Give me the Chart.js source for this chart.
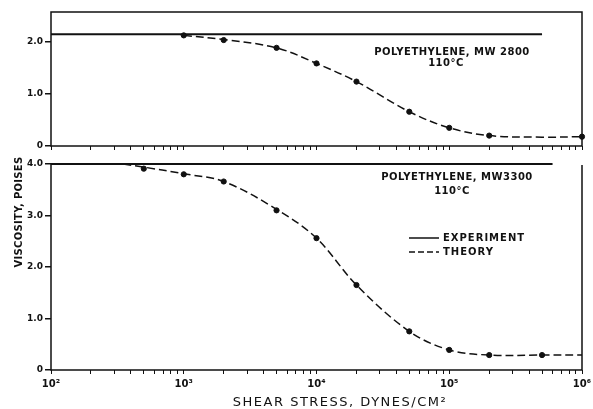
<!DOCTYPE html>
<html>
<head>
<meta charset="utf-8">
<script src="https://cdn.jsdelivr.net/npm/chart.js@4.4.1/dist/chart.umd.min.js"></script>
<style>
    html, body { margin: 0; padding: 0; background: #fff; }
    #wrap { position: relative; width: 593px; height: 409px; }
    #wrap canvas { position: absolute; left: 0; top: 0; }
</style>
</head>
<body>
<div id="wrap">
    <canvas id="topChart" width="593" height="409"></canvas>
    <canvas id="bottomChart" width="593" height="409"></canvas>
</div>
<script>
// Shear stress axis (dynes/cm2), log scale
const xMajorTicks = [1e2, 1e3, 1e4, 1e5, 1e6];
const xTickLabels = ['10²', '10³', '10⁴', '10⁵', '10⁶'];

// Polyethylene MW 2800, 110 C  (viscosity, poises)
const topYTicks = [0, 1, 2];
const topExpX = [1e2, 5e5];
const topExpY = [2.15, 2.15];
const topTheoryX = [1e3, 2e3, 5e3, 1e4, 2e4, 5e4, 1e5, 2e5, 5e5, 1e6];
const topTheoryY = [2.13, 2.05, 1.89, 1.59, 1.24, 0.66, 0.35, 0.20, 0.17, 0.18];
const topPointX = [1e3, 2e3, 5e3, 1e4, 2e4, 5e4, 1e5, 2e5, 1e6];
const topPointY = [2.13, 2.04, 1.89, 1.59, 1.24, 0.66, 0.35, 0.20, 0.18];

// Polyethylene MW 3300, 110 C
const botYTicks = [0, 1, 2, 3, 4];
const botExpX = [1e2, 6e5];
const botExpY = [4.0, 4.0];
const botTheoryX = [350, 500, 1e3, 2e3, 5e3, 1e4, 2e4, 5e4, 1e5, 2e5, 5e5, 1e6];
const botTheoryY = [4.0, 3.94, 3.81, 3.66, 3.12, 2.56, 1.65, 0.75, 0.39, 0.29, 0.29, 0.29];
const botPointX = [500, 1e3, 2e3, 5e3, 1e4, 2e4, 5e4, 1e5, 2e5, 5e5];
const botPointY = [3.91, 3.80, 3.66, 3.10, 2.56, 1.65, 0.75, 0.39, 0.29, 0.29];

const INK = '#111';
const FONT = 'DejaVu Sans';

function pairs(xs, ys) {
    return xs.map((x, i) => ({ x: x, y: ys[i] }));
}

function makeDatasets(expX, expY, thX, thY, ptX, ptY) {
    return [
        {
            label: 'Experiment',
            data: pairs(expX, expY),
            borderColor: INK,
            borderWidth: 2,
            pointRadius: 0,
            clip: false
        },
        {
            label: 'Theory',
            data: pairs(thX, thY),
            borderColor: INK,
            borderWidth: 1.5,
            borderDash: [8, 4],
            pointRadius: 0,
            tension: 0.35,
            clip: false
        },
        {
            label: 'points',
            data: pairs(ptX, ptY),
            showLine: false,
            pointRadius: 2.6,
            pointBackgroundColor: INK,
            pointBorderColor: INK,
            clip: false
        }
    ];
}

// log axis ticks: decades plus 2..9 minor marks
function logTicks(scale) {
    const t = [];
    xMajorTicks.forEach((v, i) => {
        t.push({ value: v, major: true });
        if (i < xMajorTicks.length - 1) {
            for (let m = 2; m <= 9; m++) t.push({ value: v * m });
        }
    });
    scale.ticks = t;
}

function yScale(max, tickList) {
    return {
        min: 0,
        max: max,
        afterBuildTicks: s => { s.ticks = tickList.map(v => ({ value: v })); },
        afterFit: s => { s.width = 51; s.paddingTop = 0; s.paddingBottom = 0; },
        border: { display: false },
        grid: { drawOnChartArea: false, drawTicks: true, tickLength: 6, color: INK, lineWidth: 1.5 },
        ticks: {
            padding: 2,
            color: INK,
            font: { family: FONT, weight: 'bold', size: 9 },
            callback: v => (v === 0 ? '0' : Number(v).toFixed(1))
        }
    };
}

function xScale(showLabels, height) {
    return {
        type: 'logarithmic',
        min: 1e2,
        max: 1e6,
        afterBuildTicks: logTicks,
        afterFit: s => { s.height = height; s.paddingLeft = 0; s.paddingRight = 0; },
        border: { display: false },
        grid: { drawOnChartArea: false, drawTicks: true, tickLength: 4, color: INK, lineWidth: 1 },
        ticks: {
            display: showLabels,
            autoSkip: false,
            maxRotation: 0,
            padding: 4,
            color: INK,
            font: { family: FONT, weight: 'bold', size: 10 },
            callback: v => {
                const i = xMajorTicks.indexOf(Number(v));
                return i >= 0 ? xTickLabels[i] : '';
            }
        }
    };
}

function drawText(ctx, text, x, y, font, align, spacing) {
    ctx.save();
    ctx.font = font;
    ctx.fillStyle = INK;
    ctx.textAlign = align;
    ctx.textBaseline = 'middle';
    ctx.letterSpacing = spacing || '0px';
    ctx.fillText(text, x, y);
    ctx.restore();
}

const topFrame = {
    id: 'topFrame',
    afterDraw(chart) {
        const { ctx, chartArea: a } = chart;
        ctx.save();
        ctx.strokeStyle = INK;
        ctx.lineWidth = 1.5;
        ctx.strokeRect(a.left, a.top, a.right - a.left, a.bottom - a.top);
        ctx.restore();
        drawText(ctx, 'POLYETHYLENE, MW 2800', 452, 52, 'bold 10px ' + FONT, 'center', '0.5px');
        drawText(ctx, '110°C', 446, 63, 'bold 10px ' + FONT, 'center', '0.5px');
    }
};

const bottomFrame = {
    id: 'bottomFrame',
    afterDraw(chart) {
        const { ctx, chartArea: a } = chart;
        ctx.save();
        ctx.strokeStyle = INK;
        ctx.lineWidth = 1.5;
        ctx.beginPath();
        ctx.moveTo(a.left, a.top);
        ctx.lineTo(a.left, a.bottom);
        ctx.lineTo(a.right, a.bottom);
        ctx.lineTo(a.right, a.top + 1);
        ctx.stroke();

        // legend
        ctx.lineWidth = 1.5;
        ctx.beginPath();
        ctx.moveTo(409, 238);
        ctx.lineTo(439, 238);
        ctx.stroke();
        ctx.setLineDash([6, 3]);
        ctx.beginPath();
        ctx.moveTo(409, 252);
        ctx.lineTo(439, 252);
        ctx.stroke();
        ctx.restore();

        drawText(ctx, 'EXPERIMENT', 443, 238, 'bold 10px ' + FONT, 'left', '1px');
        drawText(ctx, 'THEORY', 443, 252, 'bold 10px ' + FONT, 'left', '1px');
        drawText(ctx, 'POLYETHYLENE, MW3300', 457, 177, 'bold 10px ' + FONT, 'center', '0.5px');
        drawText(ctx, '110°C', 452, 191, 'bold 10px ' + FONT, 'center', '0.5px');

        // axis titles
        drawText(ctx, 'SHEAR STRESS, DYNES/CM²', 340, 403, '13px ' + FONT, 'center', '1.5px');
        ctx.save();
        ctx.translate(19, 212);
        ctx.rotate(-Math.PI / 2);
        drawText(ctx, 'VISCOSITY, POISES', 0, 0, 'bold 10px ' + FONT, 'center', '0.3px');
        ctx.restore();
    }
};

const baseOptions = {
    responsive: false,
    animation: false,
    plugins: { legend: { display: false }, tooltip: { enabled: false } }
};

new Chart(document.getElementById('topChart').getContext('2d'), {
    type: 'line',
    data: { datasets: makeDatasets(topExpX, topExpY, topTheoryX, topTheoryY, topPointX, topPointY) },
    options: Object.assign({}, baseOptions, {
        layout: { padding: { top: 12, right: 11, left: 0, bottom: 259 } },
        scales: { x: xScale(false, 4), y: yScale(2.58, topYTicks) }
    }),
    plugins: [topFrame]
});

new Chart(document.getElementById('bottomChart').getContext('2d'), {
    type: 'line',
    data: { datasets: makeDatasets(botExpX, botExpY, botTheoryX, botTheoryY, botPointX, botPointY) },
    options: Object.assign({}, baseOptions, {
        layout: { padding: { top: 164, right: 11, left: 0, bottom: 0 } },
        scales: { x: xScale(true, 39), y: yScale(4.0, botYTicks) }
    }),
    plugins: [bottomFrame]
});
</script>
</body>
</html>
